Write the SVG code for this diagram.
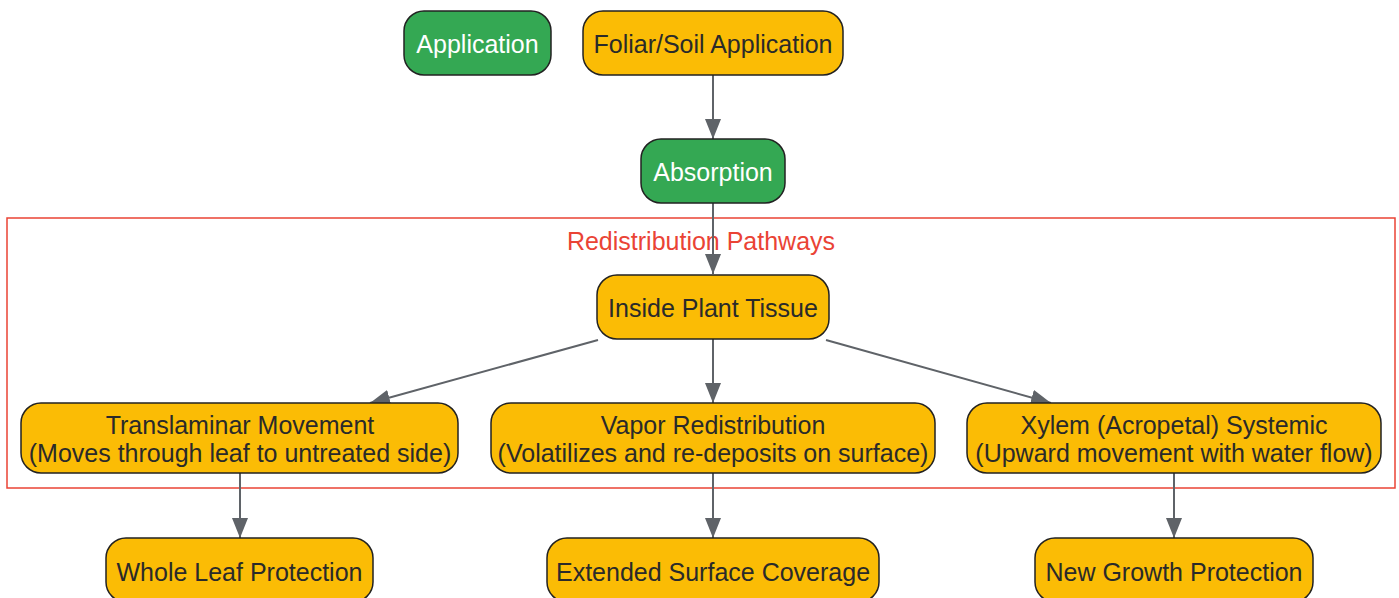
<svg xmlns="http://www.w3.org/2000/svg" width="1399" height="598" viewBox="0 0 1399 598">
<style>
.n rect{stroke:#222;stroke-width:1.5}
.y rect{fill:#fbbc05}
.g rect{fill:#34a853}
text{font-family:"Liberation Sans",Arial,sans-serif;font-size:25px;text-anchor:middle}
.y text{fill:#2a2a2a}
.g text{fill:#ffffff}
.e line{stroke:#5f6368;stroke-width:2;fill:none}
.cl{fill:none;stroke:#ea4335;stroke-width:1.5}
.cltxt{fill:#ea4335}
</style>
<defs>
<marker id="ah" viewBox="0 0 20 16" refX="20" refY="8" markerWidth="20" markerHeight="16" markerUnits="userSpaceOnUse" orient="auto">
<path d="M0,0 L20,8 L0,16 z" fill="#5f6368"/>
</marker>
</defs>
<rect width="1399" height="598" fill="#ffffff"/>
<g id="cluster-redistribution">
<rect class="cl" x="7" y="218" width="1388" height="270"/>
<text class="cltxt" x="701" y="250">Redistribution Pathways</text>
</g>
<g class="e" id="connectors">
<line x1="713" y1="75" x2="713" y2="139" marker-end="url(#ah)"/>
<line x1="713" y1="203" x2="713" y2="274" marker-end="url(#ah)"/>
<line x1="598" y1="340" x2="370" y2="403" marker-end="url(#ah)"/>
<line x1="713" y1="339" x2="713" y2="403" marker-end="url(#ah)"/>
<line x1="826" y1="340" x2="1051" y2="403" marker-end="url(#ah)"/>
<line x1="240" y1="473" x2="240" y2="538" marker-end="url(#ah)"/>
<line x1="713" y1="473" x2="713" y2="538" marker-end="url(#ah)"/>
<line x1="1174" y1="473" x2="1174" y2="538" marker-end="url(#ah)"/>
</g>
<g id="application" class="n g">
<rect x="404" y="11" width="147" height="64" rx="20"/>
<text x="477.5" y="53">Application</text>
</g>
<g id="foliar" class="n y">
<rect x="583" y="11" width="260" height="64" rx="20"/>
<text x="713" y="53">Foliar/Soil Application</text>
</g>
<g id="absorption" class="n g">
<rect x="641" y="139" width="144" height="64" rx="20"/>
<text x="713" y="181">Absorption</text>
</g>
<g id="inside" class="n y">
<rect x="597" y="275" width="232" height="64" rx="20"/>
<text x="713" y="317">Inside Plant Tissue</text>
</g>
<g id="translaminar" class="n y">
<rect x="21" y="403" width="437" height="70" rx="20"/>
<text x="240" y="434">Translaminar Movement</text>
<text x="240" y="462">(Moves through leaf to untreated side)</text>
</g>
<g id="vapor" class="n y">
<rect x="491" y="403" width="444" height="70" rx="20"/>
<text x="713" y="434">Vapor Redistribution</text>
<text x="713" y="462">(Volatilizes and re-deposits on surface)</text>
</g>
<g id="xylem" class="n y">
<rect x="967" y="403" width="414" height="70" rx="20"/>
<text x="1174" y="434">Xylem (Acropetal) Systemic</text>
<text x="1174" y="462">(Upward movement with water flow)</text>
</g>
<g id="wholeleaf" class="n y">
<rect x="106" y="538" width="267" height="64" rx="20"/>
<text x="239.5" y="581">Whole Leaf Protection</text>
</g>
<g id="extended" class="n y">
<rect x="547" y="538" width="332" height="64" rx="20"/>
<text x="713" y="581">Extended Surface Coverage</text>
</g>
<g id="newgrowth" class="n y">
<rect x="1035" y="538" width="278" height="64" rx="20"/>
<text x="1174" y="581">New Growth Protection</text>
</g>
</svg>
